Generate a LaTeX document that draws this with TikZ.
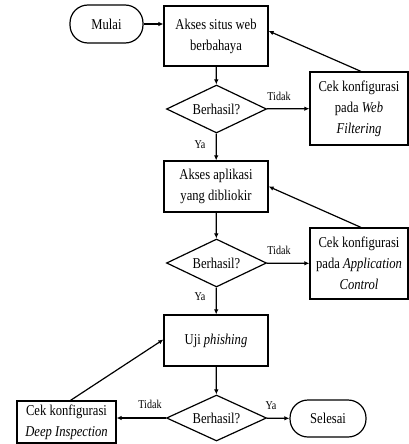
\documentclass[tikz,border=0pt]{standalone}
\usepackage{fontspec}
\setmainfont{Liberation Serif}[FakeStretch=0.84]
\usetikzlibrary{shapes.geometric,arrows.meta,calc}

\begin{document}
\begin{tikzpicture}[x=1pt,y=-1pt,
  every node/.style={font=\fontsize{15}{21}\selectfont},
  proc/.style={draw, line width=1.2pt, rectangle, inner sep=0pt, align=center},
  term/.style={draw, line width=1.2pt, rectangle, rounded corners=18pt, inner sep=0pt},
  dec/.style={draw, line width=1.2pt, diamond, aspect=2, inner sep=0pt,
              minimum width=100pt, minimum height=48pt},
  flow/.style={line width=1.2pt, -{Latex[length=5pt,width=4.5pt]}},
  lbl/.style={font=\fontsize{12}{14}\selectfont, inner sep=0pt}]

\useasboundingbox (0,0) rectangle (409,444);

% start / end
\node[term, minimum width=73pt, minimum height=38pt] (mulai) at (106.5,24) {Mulai};
\node[term, minimum width=76pt, minimum height=37pt] (selesai) at (328,418.5) {Selesai};

% main column
\node[proc, minimum width=104pt, minimum height=60pt] (box1) at (216,36) {Akses situs web\\berbahaya};
\node[dec] (d1) at (216.5,109) {Berhasil?};
\node[proc, minimum width=104pt, minimum height=51pt] (box2) at (216,186.5) {Akses aplikasi\\yang dibliokir};
\node[dec] (d2) at (216.5,263) {Berhasil?};
\node[proc, minimum width=104pt, minimum height=51pt] (box3) at (216,340.5) {Uji \textit{phishing}};
\node[dec, minimum height=46pt] (d3) at (216.5,418) {Berhasil?};

% configuration checks
\node[proc, minimum width=98pt, minimum height=73pt] (cek1) at (359,108.5) {Cek konfigurasi\\pada \textit{Web}\\\textit{Filtering}};
\node[proc, minimum width=98pt, minimum height=71pt] (cek2) at (359,263.5) {Cek konfigurasi\\pada \textit{Application}\\\textit{Control}};
\node[proc, minimum width=99pt, minimum height=42pt] (cek3) at (66.5,422) {Cek konfigurasi\\\textit{Deep Inspection}};

% branch labels
\node[lbl] (t1) at (279,96) {Tidak};
\node[lbl] (y1) at (200,145) {Ya};
\node[lbl] (t2) at (279,250) {Tidak};
\node[lbl] (y2) at (200,297) {Ya};
\node[lbl] (t3) at (150,404) {Tidak};
\node[lbl] (y3) at (271,406) {Ya};

% connectors
\draw[flow] (mulai.east) -- (mulai.east -| box1.west);
\draw[flow] (box1) -- (d1);
\draw[flow] (d1) -- (cek1);
\draw[flow] ($(cek1.north)+(2,0)$) -- ($(box1.east)+(0,-5)$);
\draw[flow] (d1) -- (box2);
\draw[flow] (box2) -- (d2);
\draw[flow] (d2) -- (cek2);
\draw[flow] ($(cek2.north)+(2,0)$) -- (box2.east);
\draw[flow] (d2) -- (box3);
\draw[flow] (box3) -- (d3);
\draw[flow] (d3) -- (selesai);
\draw[flow] (d3.west) -- (d3.west -| cek3.east);
\draw[flow] ($(cek3.north)+(4,0)$) -- ($(box3.west)+(0,-1)$);
\end{tikzpicture}
\end{document}
